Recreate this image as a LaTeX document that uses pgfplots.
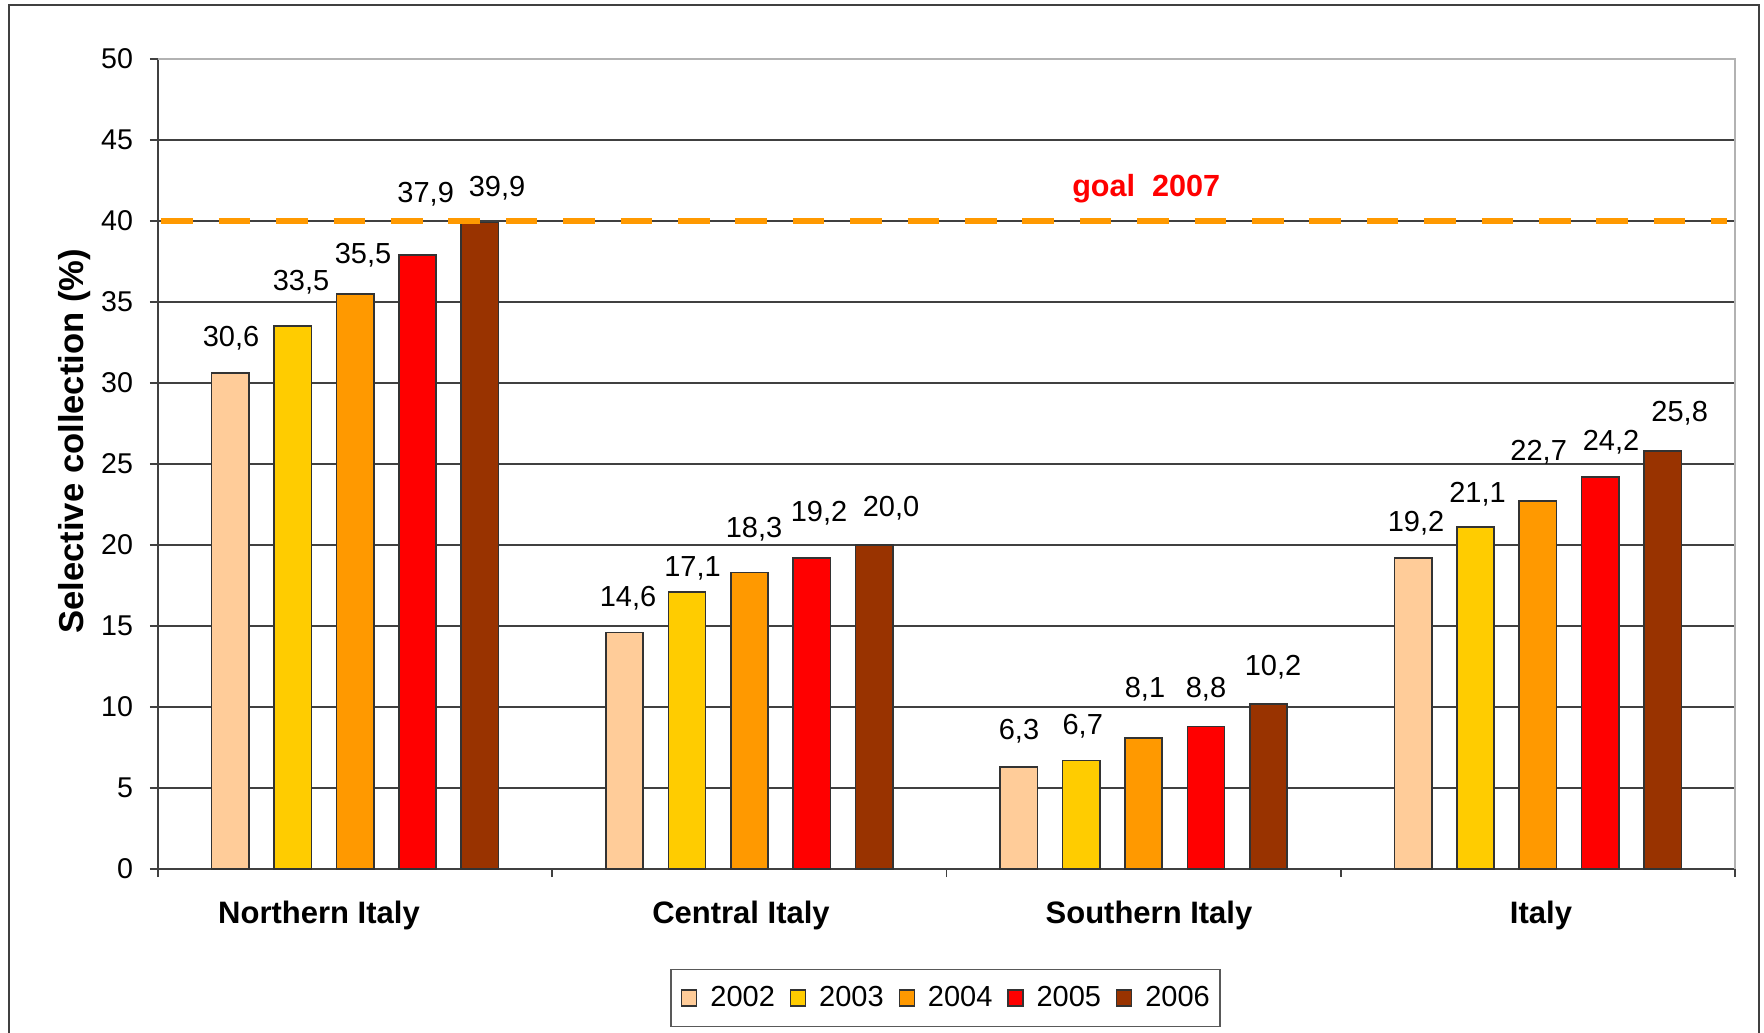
\documentclass[border=0pt]{standalone}
\usepackage{pgfplots}
\pgfplotsset{compat=1.18}
\usepackage{fontspec}
\setmainfont{Liberation Sans}
\definecolor{c2002}{HTML}{FFCC99}
\definecolor{c2003}{HTML}{FFCC00}
\definecolor{c2004}{HTML}{FF9900}
\definecolor{c2005}{HTML}{FF0000}
\definecolor{c2006}{HTML}{993300}
\definecolor{gridc}{HTML}{404040}

\pgfplotstableread{
x y label
-0.3148 32.24 30,6
0.6921 16.19 14,6
1.6839 8.02 6,3
2.6909 20.86 19,2
}\labA
\pgfplotstableread{
x y label
-0.1373 35.74 33,5
0.8557 18.08 17,1
1.8455 8.33 6,7
2.8469 22.65 21,1
}\labB
\pgfplotstableread{
x y label
0.0200 37.40 35,5
1.0117 20.46 18,3
2.0035 10.61 8,1
3.0021 25.24 22,7
}\labC
\pgfplotstableread{
x y label
0.1790 41.13 37,9
1.1766 21.42 19,2
2.1582 10.61 8,8
3.1855 25.86 24,2
}\labD
\pgfplotstableread{
x y label
0.3599 41.54 39,9
1.3592 21.74 20,0
2.3282 11.94 10,2
3.3597 27.65 25,8
}\labE

\begin{document}
\begin{tikzpicture}
\useasboundingbox (-79pt,-81.5pt) rectangle (803pt,434.5pt);
\draw[black!75, line width=1pt] (-74.5pt,-100pt) -- (-74.5pt,432pt) -- (800.5pt,432pt) -- (800.5pt,-100pt);
\begin{axis}[
  at={(0,0)}, anchor=south west,
  scale only axis, width=788.5pt, height=405pt,
  xmin=-0.5, xmax=3.5, ymin=0, ymax=50,
  axis x line*=bottom, axis y line*=left,
  axis line style={gridc, line width=0.9pt},
  ytick={0,5,...,50},
  ymajorgrids, grid style={gridc, line width=0.7pt},
  xtick={-0.0916,0.9788,2.0136,3.0079},
  xticklabels={Northern Italy, Central Italy, Southern Italy, Italy},
  major x tick style={draw=none},
  minor xtick={-0.5,0.5,1.5,2.5,3.5},
  minor x tick style={gridc, line width=0.9pt},
  tick align=outside, major tick length=4pt, minor tick length=4pt,
  ytick style={gridc, line width=0.9pt},
  yticklabel style={font=\fontsize{14.3}{16}\selectfont, xshift=-5pt, /pgf/number format/assume math mode=true},
  xticklabel style={font=\bfseries\fontsize{15.5}{18}\selectfont, anchor=base, yshift=-23pt},
  ylabel={\bfseries Selective collection (\%)},
  ylabel style={font=\fontsize{17.3}{20}\selectfont, at={(axis description cs:-0.053,0.528)}, anchor=center},
  legend columns=5,
  legend style={at={(axis description cs:0.4994,-0.1593)}, anchor=center, draw=black!65, line width=0.8pt,
    font=\fontsize{14.5}{16}\selectfont, inner xsep=5pt, inner ysep=8.5pt,
    nodes={inner sep=0pt},
    /tikz/every odd column/.append style={column sep=6.5pt},
    /tikz/every even column/.append style={column sep=7.5pt}},
  legend image code/.code={\draw[#1, line width=0.6pt] (0pt,-4pt) rectangle (7.5pt,4pt);},
  clip=false,
]
\addplot[ybar, bar width=0.0946, bar shift=-0.3166, fill=c2002, draw=black!80, line width=0.8pt] coordinates {(0,30.6) (1,14.6) (2,6.3) (3,19.2)};
\addlegendentry{2002}
\addplot[ybar, bar width=0.0946, bar shift=-0.1583, fill=c2003, draw=black!80, line width=0.8pt] coordinates {(0,33.5) (1,17.1) (2,6.7) (3,21.1)};
\addlegendentry{2003}
\addplot[ybar, bar width=0.0946, bar shift=0, fill=c2004, draw=black!80, line width=0.8pt] coordinates {(0,35.5) (1,18.3) (2,8.1) (3,22.7)};
\addlegendentry{2004}
\addplot[ybar, bar width=0.0946, bar shift=0.1583, fill=c2005, draw=black!80, line width=0.8pt] coordinates {(0,37.9) (1,19.2) (2,8.8) (3,24.2)};
\addlegendentry{2005}
\addplot[ybar, bar width=0.0946, bar shift=0.3166, fill=c2006, draw=black!80, line width=0.8pt] coordinates {(0,39.9) (1,20.0) (2,10.2) (3,25.8)};
\addlegendentry{2006}

\pgfplotsset{lab/.style={forget plot, draw=none, mark=none, nodes near coords, point meta=explicit symbolic,
  nodes near coords style={anchor=base, inner sep=0pt, font=\fontsize{14.5}{17}\selectfont, text=black}}}
\addplot[lab] table[meta=label] {\labA};
\addplot[lab] table[meta=label] {\labB};
\addplot[lab] table[meta=label] {\labC};
\addplot[lab] table[meta=label] {\labD};
\addplot[lab] table[meta=label] {\labE};

\addplot[forget plot, color=c2004, line width=3pt, dash pattern=on 15.8pt off 12.9pt, dash phase=27pt] coordinates {(-0.5,40) (3.48,40)};
\draw[gray!60, line width=0.9pt] (rel axis cs:0,1) -- (rel axis cs:1,1) -- (rel axis cs:1,0);
\node[anchor=base west, inner sep=0pt, text=red, font=\bfseries\fontsize{15.3}{18}\selectfont] at (axis cs:1.818,41.5) {goal~~2007};
\end{axis}
\end{tikzpicture}
\end{document}
